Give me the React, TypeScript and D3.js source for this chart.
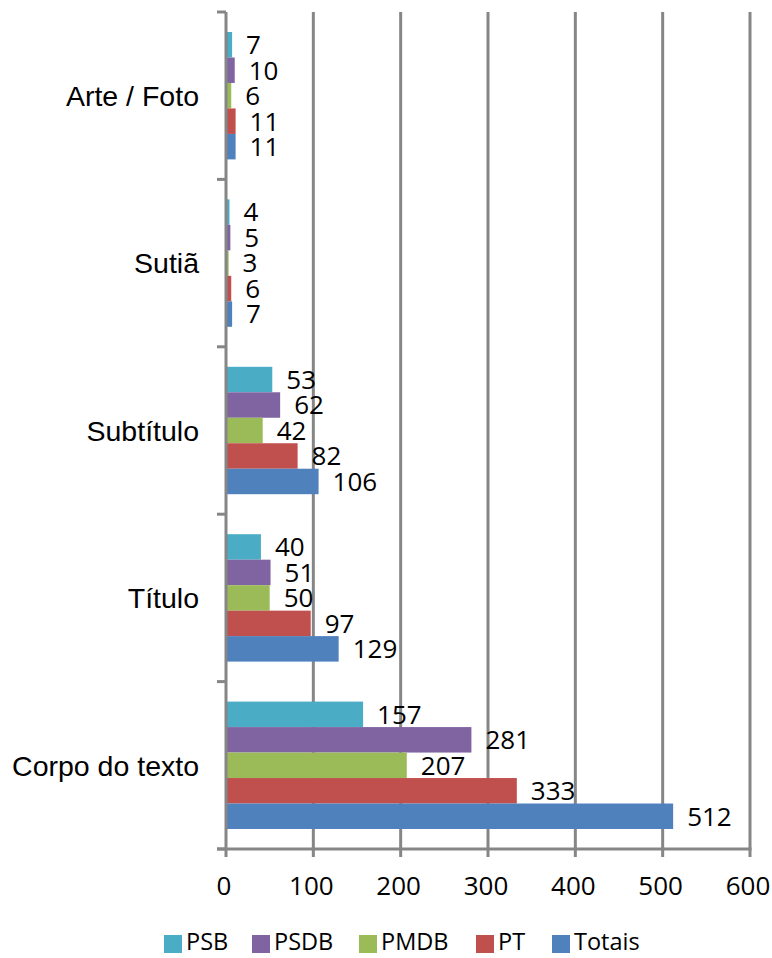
import React from 'react';
import * as d3 from 'd3';

const categories = ['Arte / Foto', 'Sutiã', 'Subtítulo', 'Título', 'Corpo do texto'];
const seriesNames = ['PSB', 'PSDB', 'PMDB', 'PT', 'Totais'];
const seriesColors = ['#4BACC6', '#8064A2', '#9BBB59', '#C0504D', '#4F81BD'];

// values per series, in the same order as categories
const psb = [7, 4, 53, 40, 157];
const psdb = [10, 5, 62, 51, 281];
const pmdb = [6, 3, 42, 50, 207];
const pt = [11, 6, 82, 97, 333];
const totais = [11, 7, 106, 129, 512];

const xTicks = [0, 100, 200, 300, 400, 500, 600];

const W = 772;
const H = 958;
const gridColor = '#868686';
const numFont = '"Open Sans", sans-serif';
const catFont = '"Liberation Sans", Arial, sans-serif';
const numSize = 26;

const App = () => {
  const seriesValues = [psb, psdb, pmdb, pt, totais];

  const x = d3.scaleLinear().domain([0, 600]).range([226, 750]);
  const y = d3.scaleBand().domain(categories).range([12, 849]);
  const bw = y.bandwidth();
  const inner = d3.scaleBand().domain(seriesNames).range([20, bw - 20]);

  const top = y.range()[0];
  const bottom = y.range()[1];

  return (
    <svg width={W} height={H} style={{ position: 'absolute', left: 0, top: 0, background: '#fff' }}>
      {/* vertical gridlines */}
      {xTicks.slice(1).map(t => (
        <line key={'g' + t} x1={x(t)} x2={x(t)} y1={top} y2={bottom + 8}
          stroke={gridColor} strokeWidth={3} />
      ))}

      {/* bars */}
      {categories.map((c, ci) => (
        <g key={c} transform={`translate(0,${y(c)})`}>
          {seriesNames.map((s, si) => {
            const v = seriesValues[si][ci];
            const by = inner(s) as number;
            return (
              <g key={s}>
                <rect x={x(0)} y={by} width={x(v) - x(0)} height={inner.bandwidth()}
                  fill={seriesColors[si]} />
                <text x={x(v) + 14} y={by + inner.bandwidth() / 2} dy="0.36em"
                  fontFamily={numFont} fontSize={numSize} fill="#000">{v}</text>
              </g>
            );
          })}
        </g>
      ))}

      {/* left axis */}
      <line x1={x(0)} x2={x(0)} y1={top} y2={bottom} stroke={gridColor} strokeWidth={3} />
      {[...categories.map(c => y(c) as number), bottom].map((b, i) => (
        <line key={'lt' + i} x1={217} x2={x(0)} y1={b} y2={b} stroke={gridColor} strokeWidth={3} />
      ))}
      {categories.map(c => (
        <text key={'cl' + c} x={199} y={(y(c) as number) + bw / 2} dy="0.36em" textAnchor="end"
          fontFamily={catFont} fontSize={28.5} fill="#000">{c}</text>
      ))}

      {/* bottom axis */}
      <line x1={217} x2={x(600) + 1.5} y1={bottom} y2={bottom} stroke={gridColor} strokeWidth={3} />
      <line x1={x(0)} x2={x(0)} y1={bottom} y2={bottom + 8} stroke={gridColor} strokeWidth={3} />
      {xTicks.map(t => (
        <text key={'xl' + t} x={x(t) - 2} y={886} dy="0.36em" textAnchor="middle"
          fontFamily={numFont} fontSize={numSize} fill="#000">{t}</text>
      ))}

      {/* legend */}
      {[164, 252, 359, 476, 552].map((lx, i) => (
        <g key={'lg' + i}>
          <rect x={lx} y={935} width={18} height={18} fill={seriesColors[i]} />
          <text x={lx + 22} y={942} dy="0.36em" fontFamily={numFont} fontSize={23.5} fill="#000">
            {seriesNames[i]}
          </text>
        </g>
      ))}
    </svg>
  );
};

export default App;
